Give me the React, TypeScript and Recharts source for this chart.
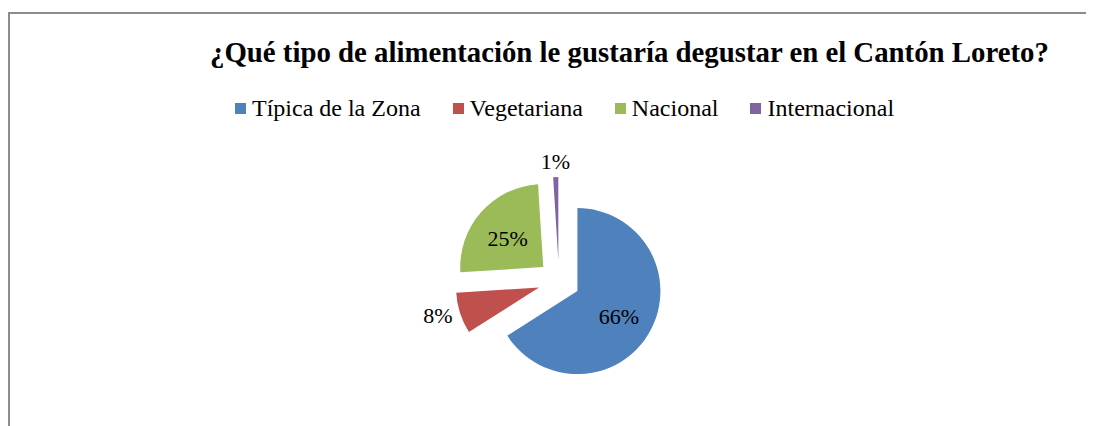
import { PieChart, Pie, Cell, Legend, Sector } from "recharts";

const categories = ["Típica de la Zona", "Vegetariana", "Nacional", "Internacional"];
const shares = [66, 8, 25, 1];
const colors = ["#4F81BD", "#C0504D", "#9BBB59", "#8064A2"];
const title = "¿Qué tipo de alimentación le gustaría degustar en el Cantón Loreto?";

const chartData = categories.map((name, i) => ({ name, value: shares[i] }));

const RADIAN = Math.PI / 180;
const EXPLODE = 21;
const SERIF = '"Liberation Serif", "Times New Roman", serif';

// every slice is pulled out from the centre along its mid angle
function ExplodedSector(props: any) {
  const { cx, cy, midAngle } = props;
  const dx = EXPLODE * Math.cos(-midAngle * RADIAN);
  const dy = EXPLODE * Math.sin(-midAngle * RADIAN);
  return <Sector {...props} cx={cx + dx} cy={cy + dy} />;
}

function renderLabel(props: any) {
  const { cx, cy, midAngle, outerRadius, percent, index } = props;
  const cos = Math.cos(-midAngle * RADIAN);
  const sin = Math.sin(-midAngle * RADIAN);
  const text = `${Math.round(percent * 100)}%`;
  if (percent > 0.15) {
    const r = EXPLODE + outerRadius * 0.57;
    return (
      <text key={index} x={cx + r * cos} y={cy + r * sin + 3} textAnchor="middle" dominantBaseline="central"
        fontFamily={SERIF} fontSize={22} fill="#000">
        {text}
      </text>
    );
  }
  const r = EXPLODE + outerRadius + 8;
  const anchor = cos < -0.5 ? "end" : cos > 0.5 ? "start" : "middle";
  const baseline = sin < -0.5 ? "auto" : "central";
  return (
    <text key={index} x={cx + r * cos} y={cy + r * sin} textAnchor={anchor} dominantBaseline={baseline}
      fontFamily={SERIF} fontSize={22} fill="#000">
      {text}
    </text>
  );
}

function LegendContent(props: any) {
  const items = [...(props.payload || [])].sort(
    (a: any, b: any) => categories.indexOf(a.value) - categories.indexOf(b.value)
  );
  return (
    <div style={{ display: "flex", alignItems: "center", fontFamily: SERIF, fontSize: 24, lineHeight: "24px", color: "#000" }}>
      {items.map((entry: any, i: number) => (
        <div key={i} style={{ display: "flex", alignItems: "center", marginRight: 32 }}>
          <span style={{ width: 11, height: 11, background: entry.color, marginRight: 6 }} />
          <span>{entry.value}</span>
        </div>
      ))}
    </div>
  );
}

export default function App() {
  return (
    <div style={{ position: "relative", width: 1086, height: 418, background: "#fff" }}>
      <style>{"html{overflow:hidden}"}</style>
      <div style={{ position: "absolute", left: 0, top: 4, width: 1100, height: 430, borderLeft: "2px solid #8c8c8c", borderTop: "2px solid #8c8c8c", boxSizing: "border-box" }} />
      <div style={{ position: "absolute", left: 202, top: 30, fontFamily: SERIF, fontSize: 28.8, lineHeight: "29px", fontWeight: "bold", whiteSpace: "nowrap", color: "#000" }}>
        {title}
      </div>
      <div style={{ position: "absolute", left: 0, top: 0 }}>
        <PieChart width={1086} height={418} margin={{ top: 0, right: 0, bottom: 0, left: 0 }}>
          <Legend
            layout="horizontal"
            verticalAlign="middle"
            align="center"
            content={<LegendContent />}
            wrapperStyle={{ top: 88, left: 227, width: 800 }}
          />
          <Pie
            data={chartData}
            dataKey="value"
            nameKey="name"
            cx={551}
            cy={273}
            outerRadius={83}
            startAngle={90}
            endAngle={-270}
            stroke="none"
            shape={ExplodedSector}
            label={renderLabel}
            labelLine={false}
            isAnimationActive={false}
          >
            {chartData.map((d, i) => (
              <Cell key={d.name} fill={colors[i]} />
            ))}
          </Pie>
        </PieChart>
      </div>
    </div>
  );
}
